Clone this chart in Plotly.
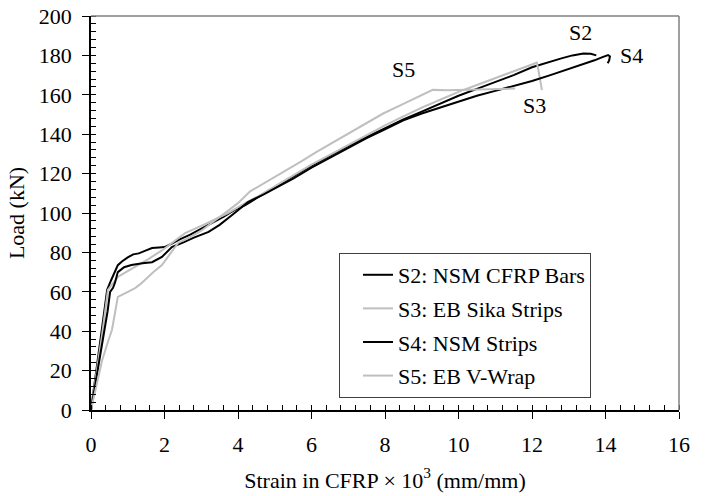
import plotly.graph_objects as go

# ---- data (strain x10^3, load kN) ----
s2_strain = [0, 0.1, 0.2, 0.3, 0.44, 0.55, 0.65, 0.73, 0.85, 1.0, 1.15, 1.3, 1.5, 1.66, 1.85, 2.0,
             2.2, 2.4, 2.7, 3.0, 3.3, 3.6, 3.9, 4.2, 4.5, 5.0, 5.5, 6.0, 6.5, 7.0, 7.5, 8.0, 8.5,
             9.0, 9.5, 10.0, 10.5, 11.0, 11.5, 12.0, 12.5, 12.8, 13.1, 13.4, 13.6, 13.75]
s2_load = [0, 14, 28, 41, 61, 66, 70, 73.5, 75.5, 77.5, 79, 79.5, 81, 82.2, 82.5, 82.7,
           84.5, 86.5, 89, 92, 95, 98, 101.5, 104, 107.5, 113, 118.5, 124, 129, 134, 138.5, 143, 147.5,
           151.5, 155.5, 159.5, 163, 166.5, 170, 174, 177, 178.5, 180, 181, 180.8, 180]

s3_strain = [0, 0.1, 0.2, 0.3, 0.46, 0.6, 0.73, 0.95, 1.2, 1.55, 1.93, 2.25, 2.56, 3.0, 3.35, 3.73,
             4.1, 4.5, 5.0, 5.5, 6.0, 6.5, 7.0, 7.5, 8.0, 8.5, 9.0, 9.5, 10.0, 10.5, 11.0, 11.5,
             11.9, 12.13, 12.18, 12.22, 12.27]
s3_load = [0, 12, 25, 38, 61, 64.5, 67.5, 70, 72.6, 76.5, 81, 85.5, 89.8, 93.5, 96.8, 100,
           104, 108, 113.5, 119, 124.5, 129.5, 134.5, 139.5, 144.5, 149, 153.5, 157.5, 161.5, 165, 168.5, 172,
           174.5, 176.3, 172, 167, 162.4]

s4_strain = [0, 0.1, 0.2, 0.3, 0.38, 0.45, 0.52, 0.6, 0.65, 0.73, 0.9, 1.1, 1.4, 1.66, 1.93, 2.2,
             2.5, 2.8, 3.2, 3.5, 3.84, 4.27, 4.7, 5.0, 5.5, 6.0, 6.5, 7.0, 7.5, 8.0, 8.5, 9.0, 9.5,
             10.0, 10.5, 11.0, 11.5, 12.0, 12.5, 13.0, 13.4, 13.7, 13.9, 14.07, 14.12, 14.1, 14.06]
s4_load = [0, 11, 22, 33, 40.5, 50, 60, 62, 64.5, 70, 72.5, 73.6, 74.5, 75, 77.7, 82.7,
           85, 87.5, 90.4, 94, 99, 105.5, 109.5, 112.5, 117.5, 123, 128, 133, 138, 142.5, 147, 150.5, 153.5,
           156.5, 159.5, 162, 164.5, 167, 170, 173, 175.5, 177.5, 179, 180.2, 179.5, 177.5, 176]

s5_strain = [0, 0.15, 0.3, 0.45, 0.57, 0.65, 0.73, 0.95, 1.2, 1.35, 1.52, 1.7, 1.93, 2.15, 2.37, 2.7,
             3.0, 3.5, 4.0, 4.33, 4.8, 5.24, 5.7, 6.14, 6.6, 7.05, 7.5, 7.95, 8.4, 8.9, 9.3, 9.7,
             10.2, 10.7, 11.2, 11.54]
s5_load = [0, 12, 25, 34, 40.6, 49, 57.4, 59.5, 61.9, 64, 67, 70, 73.6, 79, 84.8, 87.8,
           91, 98, 105, 111, 116, 121, 126, 131, 136, 141, 146, 150.5, 154.5, 159, 162.5, 162.3,
           162.6, 162.8, 163, 163.2]

series_names = ["S2: NSM CFRP Bars", "S3: EB Sika Strips", "S4: NSM Strips", "S5: EB V-Wrap"]
series_colors = ["#000000", "#bfbfbf", "#000000", "#bfbfbf"]

curve_labels = ["S2", "S3", "S4", "S5"]
label_strain = [13.32, 12.08, 14.71, 8.49]
label_load = [191.4, 154.8, 180.2, 172.6]

FONT = "Liberation Serif"

fig = go.Figure()
xs = [s2_strain, s3_strain, s4_strain, s5_strain]
ys = [s2_load, s3_load, s4_load, s5_load]
for i in range(4):
    fig.add_trace(go.Scatter(x=xs[i], y=ys[i], mode="lines", name=series_names[i],
                             legendgroup=f"g{i}",
                             line=dict(color=series_colors[i], width=2)))

# empty trace to host the overlay axes (inside part of the major ticks)
fig.add_trace(go.Scatter(x=[None], y=[None], xaxis="x2", yaxis="y2", showlegend=False, hoverinfo="skip"))

for t, xv, yv in zip(curve_labels, label_strain, label_load):
    fig.add_annotation(x=xv, y=yv, text=t, showarrow=False,
                       font=dict(family=FONT, size=22, color="black"))

axis_common = dict(showgrid=False, zeroline=False, showline=True, linecolor="black", linewidth=1.5,
                   ticks="outside", ticklen=7, tickwidth=1, tickcolor="black", automargin=False,
                   tickfont=dict(family=FONT, size=22, color="black"))

fig.update_layout(
    width=707, height=496,
    margin=dict(l=91, r=28, t=16, b=86),
    paper_bgcolor="white", plot_bgcolor="white",
    font=dict(family=FONT, size=22, color="black"),
    showlegend=True,
    legend=dict(x=0.4218, y=0.0305, xanchor="left", yanchor="bottom",
                bordercolor="#404040", borderwidth=1, bgcolor="white",
                font=dict(family=FONT, size=22, color="black"),
                tracegroupgap=2, indentation=18,
                entrywidth=210, entrywidthmode="pixels"),
    xaxis=dict(range=[0, 16], tick0=0, dtick=2, ticklabelstandoff=7,
               minor=dict(dtick=0.4, tick0=0, ticks="inside", ticklen=5, tickcolor="black", showgrid=False),
               title=dict(text="Strain in CFRP × 10<sup>3</sup> (mm/mm)", standoff=16,
                          font=dict(family=FONT, size=22)),
               **axis_common),
    yaxis=dict(range=[0, 200], tick0=0, dtick=20, ticklabelstandoff=6,
               minor=dict(dtick=4, tick0=0, ticks="inside", ticklen=5, tickcolor="black", showgrid=False),
               title=dict(text="Load (kN)", standoff=8, font=dict(family=FONT, size=22)),
               **axis_common),
    xaxis2=dict(range=[0, 16], overlaying="x", anchor="y", side="bottom", tick0=0, dtick=2,
                ticks="inside", ticklen=5, tickcolor="black", showticklabels=False,
                showgrid=False, zeroline=False, showline=False),
    yaxis2=dict(range=[0, 200], overlaying="y", anchor="x", side="left", tick0=0, dtick=20,
                ticks="inside", ticklen=5, tickcolor="black", showticklabels=False,
                showgrid=False, zeroline=False, showline=False),
)

# gray frame on top and right
fig.add_shape(type="line", xref="paper", yref="paper", x0=0, x1=1, y0=1, y1=1,
              line=dict(color="#808080", width=1.5))
fig.add_shape(type="line", xref="paper", yref="paper", x0=1, x1=1, y0=0, y1=1,
              line=dict(color="#808080", width=1.5))

fig.write_html("out.html")
